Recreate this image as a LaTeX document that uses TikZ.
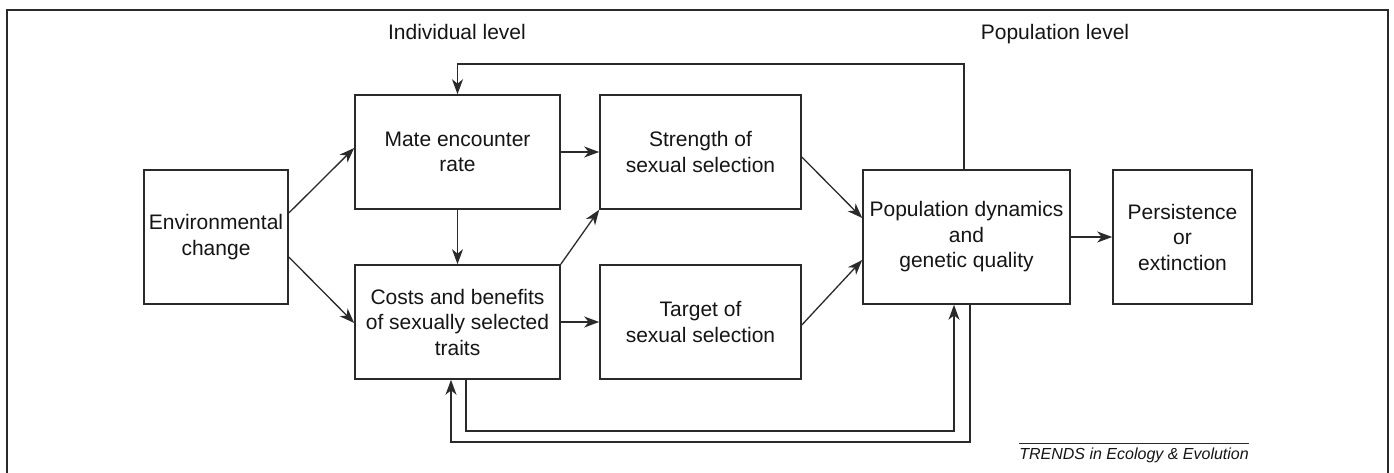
\documentclass[tikz,border=0pt]{standalone}
\usepackage{fontspec}
\setmainfont{Liberation Sans}
\usetikzlibrary{arrows.meta}
\definecolor{linec}{HTML}{2A2A2A}
\definecolor{textc}{HTML}{151515}
\tikzset{
  box/.style={draw=linec, line width=1.6pt, inner sep=0pt, align=center,
    text=textc, font=\fontsize{21}{25.5}\selectfont},
  arr/.style={draw=linec, line width=1.3pt,
    -{Stealth[length=15pt,width=11pt,inset=4.5pt]}},
  lvl/.style={inner sep=0pt, text=textc, anchor=base, font=\fontsize{21}{25.5}\selectfont},
  frame/.style={draw=linec, line width=1.4pt}
}
\begin{document}
\begin{tikzpicture}[x=1pt,y=-1pt]
\useasboundingbox (0,0) rectangle (1394,473);
\fill[white] (0,0) rectangle (1394,473);
% outer frame (open at bottom)
\draw[frame] (7,480) -- (7,10) -- (1388,10) -- (1388,480);

% level labels
\node[lvl] (indiv) at (457,40) {Individual level};
\node[lvl] (poplvl) at (1055,40) {Population level};

% boxes
\node[box, minimum width=144pt, minimum height=134pt] (env) at (216,237) {Environmental\\change};
\node[box, minimum width=205pt, minimum height=114pt] (mate) at (457.5,152) {Mate encounter\\rate};
\node[box, minimum width=205pt, minimum height=114pt] (costs) at (457.5,322) {Costs and benefits\\of sexually selected\\traits};
\node[box, minimum width=201pt, minimum height=114pt] (str) at (700.5,152) {Strength of\\sexual selection};
\node[box, minimum width=201pt, minimum height=114pt] (tgt) at (700.5,322) {Target of\\sexual selection};
\node[box, minimum width=207pt, minimum height=134pt] (pop) at (966.5,237) {Population dynamics\\and\\genetic quality};
\node[box, minimum width=139pt, minimum height=134pt] (per) at (1182.5,237) {Persistence\\or\\extinction};

% helper coordinates for routed connectors
\coordinate (topline) at (0,64);
\coordinate (bot1) at (0,431);
\coordinate (bot2) at (0,442);

% connectors
\draw[arr] ([yshift=24pt]env.east) -- ([yshift=4pt]mate.west);
\draw[arr] ([yshift=-20pt]env.east) -- ([yshift=-1pt]costs.west);
\draw[arr] (mate.south) -- (costs.north);
\draw[arr] (mate.east) -- (str.west);
\draw[arr] (costs.north east) -- (str.south west);
\draw[arr] (costs.east) -- (tgt.west);
\draw[arr] ([yshift=-5pt]str.east) -- ([yshift=19pt]pop.west);
\draw[arr] ([yshift=-3pt]tgt.east) -- ([yshift=-23pt]pop.west);
\draw[arr] (pop.east) -- (per.west);
% top feedback
\draw[arr] ([xshift=-2.5pt]pop.north) -- ([xshift=-2.5pt]pop.north |- topline) -| (mate.north);
% bottom loops
\draw[arr] ([xshift=8.5pt]costs.south) -- ([xshift=8.5pt]costs.south |- bot1) -| ([xshift=-12.5pt]pop.south);
\draw[arr] ([xshift=3.5pt]pop.south) -- ([xshift=3.5pt]pop.south |- bot2) -| ([xshift=-6.5pt]costs.south);

% footer
\node[inner sep=0pt, anchor=base east, text=textc, font=\fontsize{16}{19}\selectfont\itshape] (foot) at (1249,459) {TRENDS in Ecology \& Evolution};
\draw[draw=linec, line width=0.8pt] ([yshift=3.5pt]foot.north west) -- ([yshift=3.5pt]foot.north east);
\end{tikzpicture}
\end{document}
